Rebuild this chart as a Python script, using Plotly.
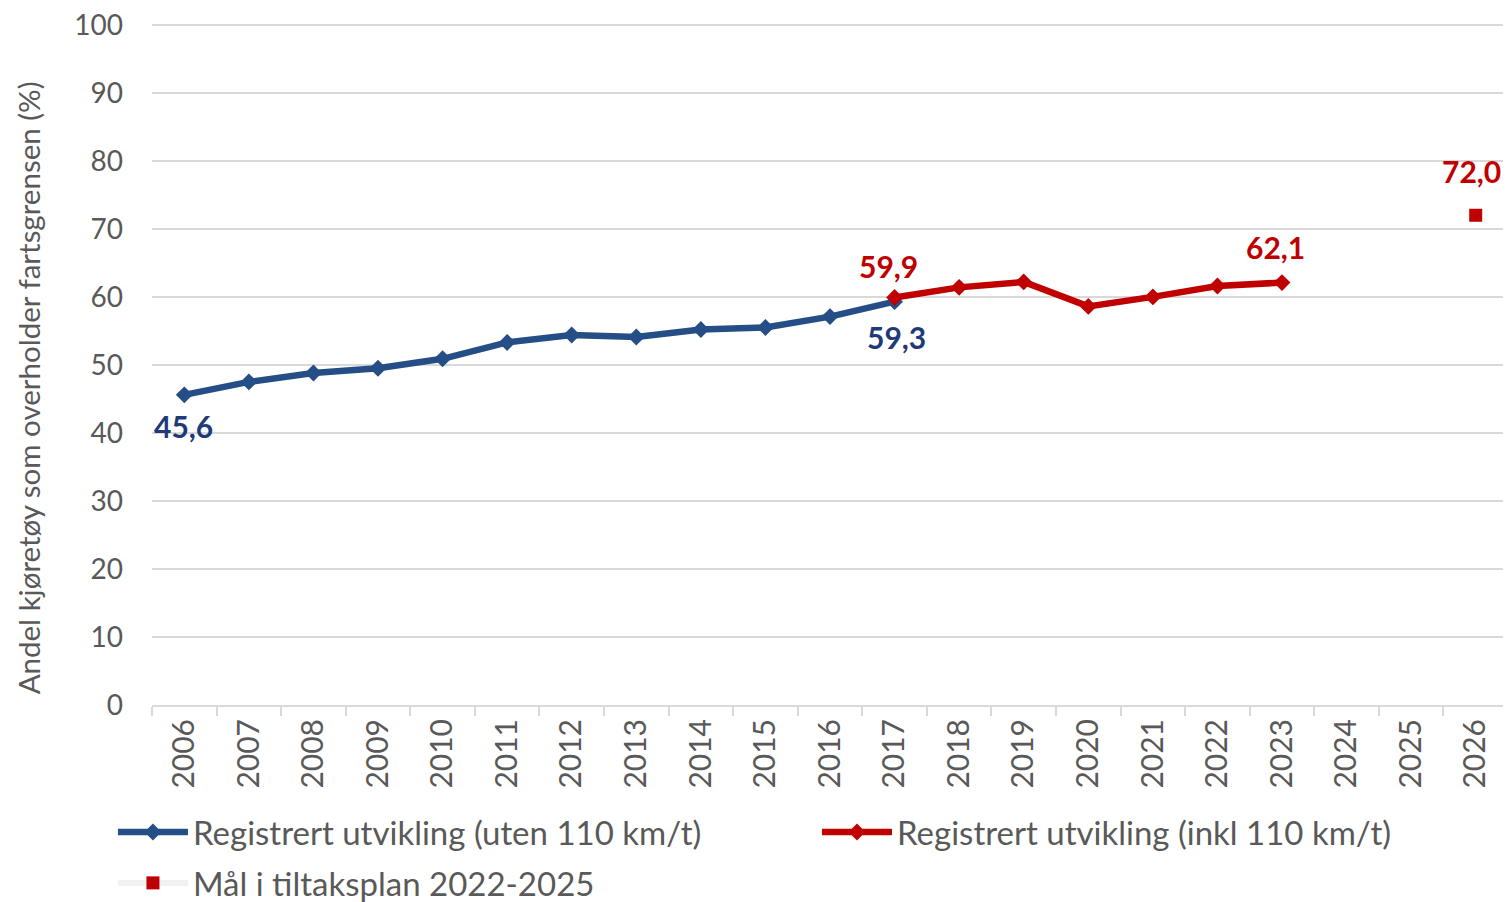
import plotly.graph_objects as go

years = [str(y) for y in range(2006, 2027)]
blue_years = [str(y) for y in range(2006, 2018)]
blue_vals = [45.6, 47.5, 48.8, 49.5, 50.9, 53.3, 54.4, 54.1, 55.2, 55.5, 57.1, 59.3]
red_years = [str(y) for y in range(2017, 2024)]
red_vals = [59.9, 61.4, 62.2, 58.6, 60.0, 61.6, 62.1]
target_years = ["2026"]
target_vals = [72.0]

blue_name = "Registrert utvikling (uten 110 km/t)"
red_name = "Registrert utvikling (inkl 110 km/t)"
target_name = "Mål i tiltaksplan 2022-2025"
y_title = "Andel kjøretøy som overholder fartsgrensen (%)"

BLUE = "#254E86"
BLUE_TXT = "#1F3A78"
RED = "#C00000"
GRAY = "#595959"
GRID = "#D9D9D9"
FONT = "Lato, 'Open Sans', sans-serif"
LBL = 30

def fmt(v):
    return f"{v:.1f}".replace(".", ",")

fig = go.Figure()
fig.add_trace(go.Scatter(
    x=blue_years, y=blue_vals, name=blue_name, mode="lines+markers",
    line=dict(color=BLUE, width=6.5), marker=dict(symbol="diamond", size=13, color=BLUE),
    legend="legend",
))
fig.add_trace(go.Scatter(
    x=red_years, y=red_vals, name=red_name, mode="lines+markers",
    line=dict(color=RED, width=6.5), marker=dict(symbol="diamond", size=13, color=RED),
    legend="legend2",
))
fig.add_trace(go.Scatter(
    x=target_years, y=target_vals, name=target_name, mode="lines+markers",
    line=dict(color="#F2F2F2", width=6), marker=dict(symbol="square", size=13, color=RED),
    legend="legend3",
))

# data labels (positions come from the data arrays; x given as category index)
labels = [
    (blue_years[0], blue_vals[0], BLUE_TXT, -1, -31),
    (blue_years[-1], blue_vals[-1], BLUE_TXT, 2, -35),
    (red_years[0], red_vals[0], RED, -6, 32),
    (red_years[-1], red_vals[-1], RED, -7, 36),
    (target_years[0], target_vals[0], RED, -4, 44),
]
for x, y, c, xs, ys in labels:
    fig.add_annotation(x=years.index(x), y=y, xref="x", yref="y", text=fmt(y),
                       showarrow=False, xshift=xs, yshift=ys,
                       font=dict(color=c, size=LBL, family=FONT, weight="bold"))

# y-axis title placed as a rotated annotation
fig.add_annotation(x=-0.0914, y=0.461, xref="paper", yref="paper", text=y_title,
                   textangle=-90, showarrow=False, xanchor="center", yanchor="middle",
                   font=dict(size=29.5, color=GRAY, family=FONT))

leg_common = dict(orientation="h", xanchor="left", yanchor="middle", itemwidth=70,
                  font=dict(size=33, color=GRAY, family=FONT), bgcolor="rgba(0,0,0,0)")
# page has an 8px body margin: figure is sized/offset to compensate
fig.update_layout(
    width=1503, height=894,
    margin=dict(l=144, r=3, t=10, b=197, autoexpand=False),
    paper_bgcolor="white", plot_bgcolor="white",
    font=dict(family=FONT, color=GRAY, size=16),
    showlegend=True,
    legend=dict(x=-0.0288, y=-0.185, **leg_common),
    legend2=dict(x=0.4904, y=-0.185, **leg_common),
    legend3=dict(x=-0.0288, y=-0.259, **leg_common),
)
fig.update_xaxes(
    type="category", categoryorder="array", categoryarray=years,
    range=[-0.5, len(years) - 0.5], automargin=False,
    tickangle=-90, tickson="boundaries", ticks="outside", ticklen=9, tickcolor=GRID,
    tickwidth=2,
    showline=True, linecolor=GRID, linewidth=2, showgrid=False,
    tickfont=dict(size=30, color=GRAY, family=FONT),
)
fig.update_yaxes(
    range=[0, 101], dtick=10, showgrid=True, gridcolor=GRID, gridwidth=2,
    zeroline=False, showline=False, ticks="", automargin=False,
    ticklabelstandoff=28, ticklabeloverflow="allow",
    tickfont=dict(size=28, color=GRAY, family=FONT),
)

fig.write_html("out.html")
